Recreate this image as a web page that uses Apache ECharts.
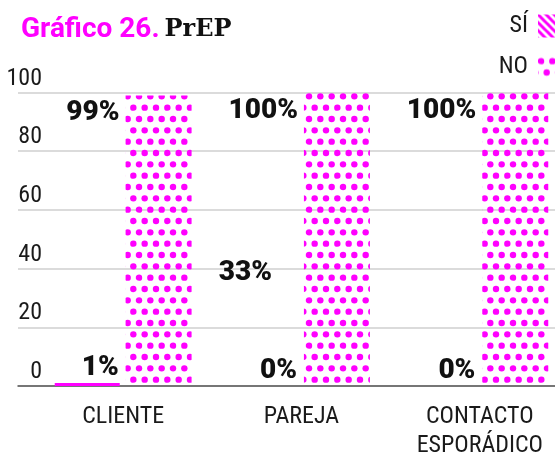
<!DOCTYPE html>
<html>
<head>
<meta charset="utf-8">
<script src="https://cdn.jsdelivr.net/npm/echarts@6/dist/echarts.min.js"></script>
<style>
  html, body { margin: 0; padding: 0; background: #fff; }
  #chart { width: 555px; height: 452px; }
</style>
</head>
<body>
<div id="chart"></div>
<script>
const categories = ['CLIENTE', 'PAREJA', 'CONTACTO\nESPORÁDICO']
const siValues = [1, 0, 0]
const noValues = [99, 100, 100]
// stray label shown over PAREJA in the original
const strayValues = [null, 33, null]
const yTicks = [0, 20, 40, 60, 80, 100]

const MAGENTA = '#ff00ff'
const narrow = '"Roboto Condensed", "Liberation Sans Narrow", Roboto, sans-serif'

function stripes() {
  const c = document.createElement('canvas')
  c.width = 8
  c.height = 8
  const ctx = c.getContext('2d')
  ctx.strokeStyle = MAGENTA
  ctx.lineWidth = 3
  for (const k of [-8, 0, 8]) {
    ctx.beginPath()
    ctx.moveTo(k - 1, -1)
    ctx.lineTo(k + 9, 9)
    ctx.stroke()
  }
  return c
}

function dots() {
  const step = 34 / 3
  const c = document.createElement('canvas')
  c.width = 34
  c.height = 68
  const ctx = c.getContext('2d')
  ctx.fillStyle = MAGENTA
  for (let r = 0; r < 6; r++) {
    for (let col = -1; col <= 3; col++) {
      const x = col * step + (r % 2 ? step / 2 : 0) + 3
      const y = r * step + step / 2
      ctx.beginPath()
      ctx.arc(x, y, 3.2, 0, Math.PI * 2)
      ctx.fill()
    }
  }
  return c
}

const chart = echarts.init(document.getElementById('chart'))

const barLabel = {
  show: true,
  fontFamily: 'Roboto',
  fontWeight: 900,
  fontSize: 28,
  color: '#111',
}

chart.setOption({
  animation: false,
  title: {
    left: 16,
    top: 11,
    text: '{a|Gráfico 26.} {b|PrEP}',
    textStyle: {
      rich: {
        a: { fontFamily: 'Roboto', fontWeight: 'bold', fontSize: 28, color: MAGENTA },
        b: { fontFamily: '"DejaVu Serif"', fontWeight: 'bold', fontSize: 24, color: '#111' },
      },
    },
  },
  legend: {
    data: ['SÍ', 'NO'],
    orient: 'vertical',
    right: -8,
    top: 9,
    align: 'right',
    icon: 'rect',
    itemWidth: 20,
    itemHeight: 23,
    itemGap: 17,
    itemStyle: { borderWidth: 0 },
    textStyle: { fontFamily: narrow, fontSize: 24, color: '#1a1a1a', padding: [0, 5, 0, 0] },
  },
  grid: [
    { left: 18, right: 0, top: 92.5, bottom: 66, outerBoundsMode: 'none' },
    { left: 34, width: 535, top: 92.5, bottom: 66, outerBoundsMode: 'none' },
  ],
  xAxis: [
    {
      gridIndex: 0,
      type: 'category',
      data: categories,
      axisLine: { lineStyle: { color: '#555', width: 1.5 } },
      axisTick: { show: false },
      axisLabel: { show: false },
    },
    {
      gridIndex: 1,
      type: 'category',
      data: categories,
      axisLine: { show: false },
      axisTick: { show: false },
      axisLabel: {
        fontFamily: narrow,
        fontSize: 24,
        color: '#1a1a1a',
        margin: 16,
        lineHeight: 29,
      },
    },
  ],
  yAxis: [
    {
      gridIndex: 0,
      type: 'value',
      min: yTicks[0],
      max: yTicks[yTicks.length - 1],
      interval: 20,
      axisLine: { show: false },
      axisTick: { show: false },
      splitLine: { lineStyle: { color: '#cfcfcf', width: 1.5 } },
      axisLabel: {
        inside: true,
        align: 'right',
        verticalAlign: 'bottom',
        margin: 24,
        padding: [0, 0, 2, 0],
        fontFamily: narrow,
        fontSize: 24,
        color: '#1a1a1a',
      },
    },
    { gridIndex: 1, type: 'value', min: 0, max: 100, show: false },
  ],
  series: [
    {
      name: 'SÍ',
      type: 'bar',
      xAxisIndex: 1,
      yAxisIndex: 1,
      stack: 'si',
      barWidth: 65,
      barGap: '9%',
      data: siValues.map((v) => ({ value: v, itemStyle: v === 0 ? { borderWidth: 0 } : {} })),
      itemStyle: { color: { image: stripes(), repeat: 'repeat' }, borderColor: MAGENTA, borderWidth: 1.5 },
      label: {
        ...barLabel,
        position: ['100%', 0],
        align: 'right',
        verticalAlign: 'bottom',
        offset: [-1, -1],
        formatter: (p) => p.value + '%',
      },
    },
    {
      name: 'stray',
      type: 'bar',
      xAxisIndex: 1,
      yAxisIndex: 1,
      stack: 'si',
      barWidth: 65,
      data: strayValues,
      itemStyle: { color: 'rgba(0,0,0,0)' },
      label: {
        ...barLabel,
        position: ['100%', 0],
        align: 'right',
        verticalAlign: 'bottom',
        offset: [-26, -2],
        formatter: (p) => p.value + '%',
      },
    },
    {
      name: 'NO',
      type: 'bar',
      xAxisIndex: 1,
      yAxisIndex: 1,
      barWidth: 66,
      data: noValues,
      itemStyle: { color: { image: dots(), repeat: 'repeat' } },
      label: {
        ...barLabel,
        position: [0, 0],
        align: 'right',
        verticalAlign: 'top',
        offset: [-6, 4],
        formatter: (p) => p.value + '%',
      },
    },
  ],
})
</script>
</body>
</html>
